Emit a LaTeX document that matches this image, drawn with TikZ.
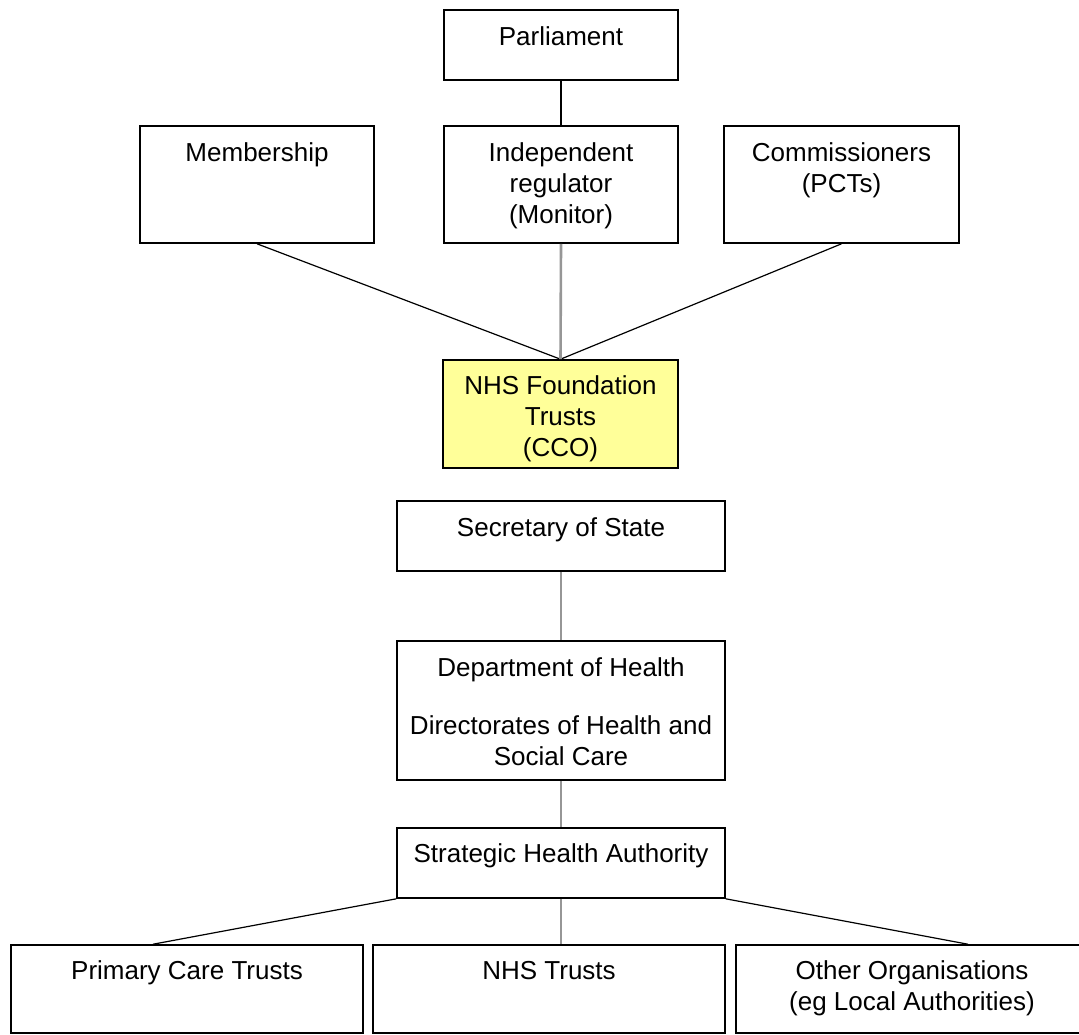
\documentclass[tikz,border=0pt]{standalone}
\usepackage{fontspec}
\setmainfont{Liberation Sans}
\usetikzlibrary{positioning}
\definecolor{ftyellow}{RGB}{255,255,153}
\definecolor{linkgray}{RGB}{150,150,150}
\begin{document}
\begin{tikzpicture}[x=0.5pt,y=-0.5pt,
    box/.style={draw=black, line width=0.8pt, inner sep=0pt, fill=white},
    txt/.style={inner sep=0pt, align=center, font=\fontsize{13}{15.5}\selectfont},
    link/.style={draw=black, line width=0.6pt},
    glink/.style={draw=linkgray, line width=1.3pt}]
  \useasboundingbox (0,0) rectangle (1079,1034);

  % Top part: Parliament and the three boxes above the trusts
  \node[box, minimum width=117pt, minimum height=35pt] (par) at (561,45) {};
  \node[box, minimum width=117pt, minimum height=58.5pt] (mem) at (257,184.5) {};
  \node[box, minimum width=117pt, minimum height=58.5pt] (reg) at (561,184.5) {};
  \node[box, minimum width=117.5pt, minimum height=58.5pt] (com) at (841.5,184.5) {};
  \node[box, fill=ftyellow, minimum width=117.5pt, minimum height=54pt] (nft) at (560.5,414) {};

  \node[txt, below=8.5pt of par.north] (part) {Parliament};
  \node[txt, below=8.5pt of mem.north] (memt) {Membership};
  \node[txt, below=8.5pt of reg.north] (regt) {Independent\\regulator\\(Monitor)};
  \node[txt, below=8.5pt of com.north] (comt) {Commissioners\\(PCTs)};
  \node[txt, below=8.25pt of nft.north] (nftt) {NHS Foundation\\Trusts\\(CCO)};

  % Lower part: the department chain
  \node[box, minimum width=164pt, minimum height=35pt] (sos) at (561,536) {};
  \node[box, minimum width=164pt, minimum height=69.5pt] (doh) at (561,710.5) {};
  \node[box, minimum width=164pt, minimum height=35pt] (sha) at (561,863) {};
  \node[box, minimum width=176pt, minimum height=44pt] (pct) at (187,989) {};
  \node[box, minimum width=176pt, minimum height=44pt] (nht) at (549,989) {};
  \node[box, minimum width=176pt, minimum height=44pt] (oth) at (912,989) {};

  \node[txt, below=8.5pt of sos.north] (sost) {Secretary of State};
  \node[txt, below=8.5pt of doh.north] (doht) {Department of Health\\[13.5pt]Directorates of Health and\\Social Care};
  \node[txt, below=8.25pt of sha.north] (shat) {Strategic Health Authority};
  \node[txt, below=8.25pt of pct.north] (pctt) {Primary Care Trusts};
  \node[txt, below=8.25pt of nht.north] (nhtt) {NHS Trusts};
  \node[txt, below=8.25pt of oth.north] (otht) {Other Organisations\\(eg Local Authorities)};

  % Connectors
  \draw[link] (par.south) -- (reg.north);
  \draw[link] (mem.south) -- (nft.north);
  \draw[link] (com.south) -- (nft.north);
  \draw[glink] (reg.south) -- (nft.north);
  \draw[glink] (sos.south) -- (doh.north);
  \draw[glink] (doh.south) -- (sha.north);
  \draw[link] (sha.south west) -- ([xshift=-17pt]pct.north);
  \draw[glink] (sha.south) -- (sha.south |- nht.north);
  \draw[link] (sha.south east) -- ([xshift=28pt]oth.north);
\end{tikzpicture}
\end{document}
